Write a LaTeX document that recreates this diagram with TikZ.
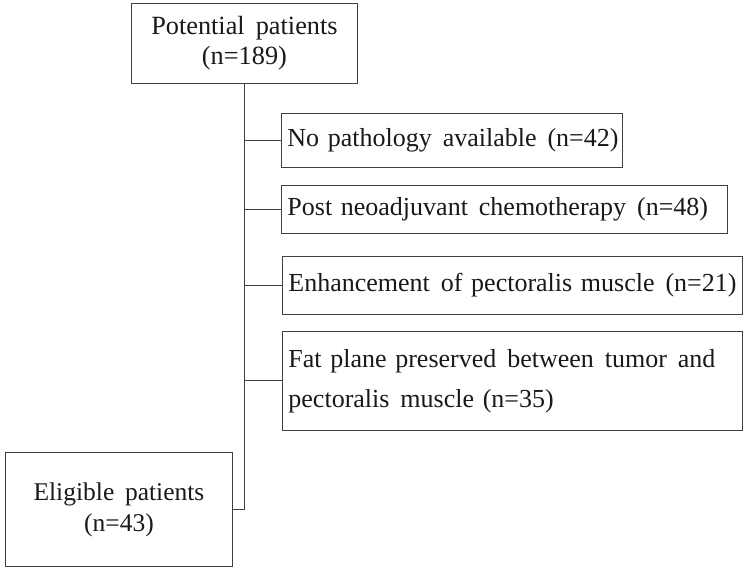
\documentclass[tikz,border=0pt]{standalone}
\usepackage{fontspec}
\setmainfont{Liberation Serif}
\newcommand{\ws}{\hspace{0.42em}}
\begin{document}
\begin{tikzpicture}[x=1pt,y=-1pt,
  box/.style={draw=black!75, line width=0.9pt, inner sep=0pt, anchor=north west, font=\fontsize{26}{31}\selectfont, text=black!90},
  conn/.style={draw=black!75, line width=0.9pt}]
\useasboundingbox (0,0) rectangle (750,569);
\node[box, minimum width=226, minimum height=80, align=center, font=\fontsize{26.3}{30}\selectfont] (top) at (131,3) {\raisebox{-8pt}{Potential\ws patients}\\\raisebox{-8pt}{(n=189)}};
\node[box, minimum width=227, minimum height=114, align=center, font=\fontsize{25.5}{31}\selectfont] (elig) at (5,452) {Eligible\ws patients\\(n=43)};
\node[box, minimum width=341, minimum height=54, align=left, text width=329, inner xsep=6pt] (b1) at (281,113) {\mbox{No pathology\ws available\ws (n=42)}};
\node[box, minimum width=446, minimum height=48, align=left, text width=434, inner xsep=6pt] (b2) at (281,185) {\mbox{Post neoadjuvant\ws chemotherapy\ws (n=48)}};
\node[box, minimum width=460, minimum height=58, align=left, text width=448, inner xsep=6pt] (b3) at (282,256) {\mbox{Enhancement\ws of pectoralis muscle\ws (n=21)}};
\node[box, minimum width=460, minimum height=99, align=left, text width=448, inner xsep=6pt, font=\fontsize{26}{40}\selectfont] (b4) at (282,331) {\raisebox{-6pt}{Fat plane preserved\ws between\ws tumor\ws and}\\\raisebox{-6pt}{pectoralis\ws muscle (n=35)}};
\coordinate (s) at (top.south);
\coordinate (j) at (top.south |- elig.east);
\draw[conn] (s) -- (j) -- (elig.east);
\draw[conn] (b1.west -| s) -- (b1.west);
\draw[conn] (b2.west -| s) -- (b2.west);
\draw[conn] (b3.west -| s) -- (b3.west);
\draw[conn] (b4.west -| s) -- (b4.west);
\end{tikzpicture}
\end{document}
